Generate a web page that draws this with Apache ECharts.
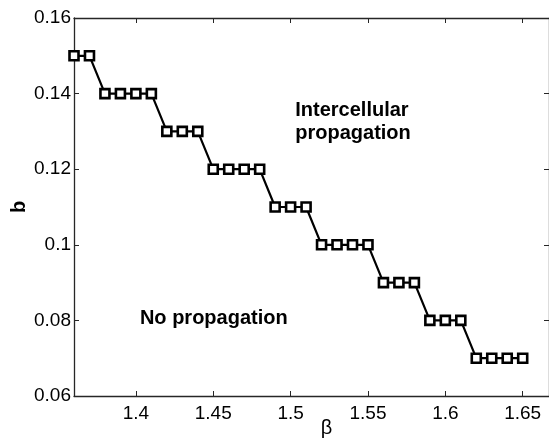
<!DOCTYPE html>
<html><head><meta charset="utf-8">
<script src="https://cdn.jsdelivr.net/npm/echarts@6/dist/echarts.min.js"></script>
<style>html,body{margin:0;padding:0;background:#fff}#c{width:549px;height:440px}</style>
</head><body><div id="c"></div>
<script>
const betaValues = [1.36,1.37,1.38,1.39,1.40,1.41,1.42,1.43,1.44,1.45,1.46,1.47,1.48,1.49,1.50,1.51,1.52,1.53,1.54,1.55,1.56,1.57,1.58,1.59,1.60,1.61,1.62,1.63,1.64,1.65];
const bValues = [0.15,0.15,0.14,0.14,0.14,0.14,0.13,0.13,0.13,0.12,0.12,0.12,0.12,0.11,0.11,0.11,0.10,0.10,0.10,0.10,0.09,0.09,0.09,0.08,0.08,0.08,0.07,0.07,0.07,0.07];
const xTicks = [1.4,1.45,1.5,1.55,1.6,1.65];
const yTicks = [0.06,0.08,0.1,0.12,0.14,0.16];
const xLabel = 'β';
const yLabel = 'b';
const annotations = [
  {text:'Intercellular\npropagation', x:1.503, y:0.1385},
  {text:'No propagation', x:1.4026, y:0.0806}
];
const fnt = '"Liberation Sans", Arial, sans-serif';
const fmt = v => String(+(+v).toFixed(3));
const chart = echarts.init(document.getElementById('c'), null, {renderer:'canvas'});
const tickStyle = {show:true, inside:true, length:5, lineStyle:{color:'#262626'}};
const axisCommon = {
  axisLine:{show:true, lineStyle:{color:'#262626', width:1.3}},
  splitLine:{show:false}
};
chart.setOption({
  animation:false,
  grid:{left:74, right:0, top:18, bottom:44, containLabel:false, outerBoundsMode:'none'},
  xAxis:[
    Object.assign({type:'value', min:1.36, max:1.667, position:'bottom',
      name:xLabel, nameLocation:'middle', nameGap:22, nameMoveOverlap:false,
      nameTextStyle:{fontFamily:fnt, fontSize:20, color:'#000', padding:[0,0,0,30]},
      axisLabel:{show:true, customValues:xTicks, formatter:fmt, fontFamily:fnt, fontSize:19, color:'#000', margin:8},
      axisTick:Object.assign({customValues:xTicks}, tickStyle)}, axisCommon),
    Object.assign({type:'value', min:1.36, max:1.667, position:'top',
      axisLabel:{show:false, customValues:xTicks},
      axisTick:Object.assign({customValues:xTicks}, tickStyle)}, axisCommon)
  ],
  yAxis:[
    Object.assign({type:'value', min:0.06, max:0.16, interval:0.02, position:'left',
      name:yLabel, nameLocation:'middle', nameGap:45, nameRotate:90, nameMoveOverlap:false,
      nameTextStyle:{fontFamily:fnt, fontSize:20, fontWeight:'bold', color:'#000'},
      axisLabel:{show:true, formatter:fmt, fontFamily:fnt, fontSize:19, color:'#000', margin:3},
      axisTick:tickStyle}, axisCommon),
    Object.assign({type:'value', min:0.06, max:0.16, interval:0.02, position:'right',
      axisLabel:{show:false}, axisTick:tickStyle}, axisCommon)
  ],
  series:[{
    type:'line',
    data: betaValues.map((x,i)=>[x,bValues[i]]),
    lineStyle:{color:'#000', width:2.2},
    symbol:'rect', symbolSize:9,
    itemStyle:{color:'#fff', borderColor:'#000', borderWidth:2.6},
    clip:false
  }]
});
const graphics = annotations.map(a => {
  const p = chart.convertToPixel({xAxisIndex:0, yAxisIndex:0}, [a.x, a.y]);
  return {type:'text', x:p[0], y:p[1], style:{text:a.text, fontFamily:fnt, fontSize:20, fontWeight:'bold', fill:'#000', lineHeight:23, verticalAlign: a.text.indexOf('\n')>=0 ? 'top':'middle'}};
});
chart.setOption({graphic:graphics});
</script></body></html>
